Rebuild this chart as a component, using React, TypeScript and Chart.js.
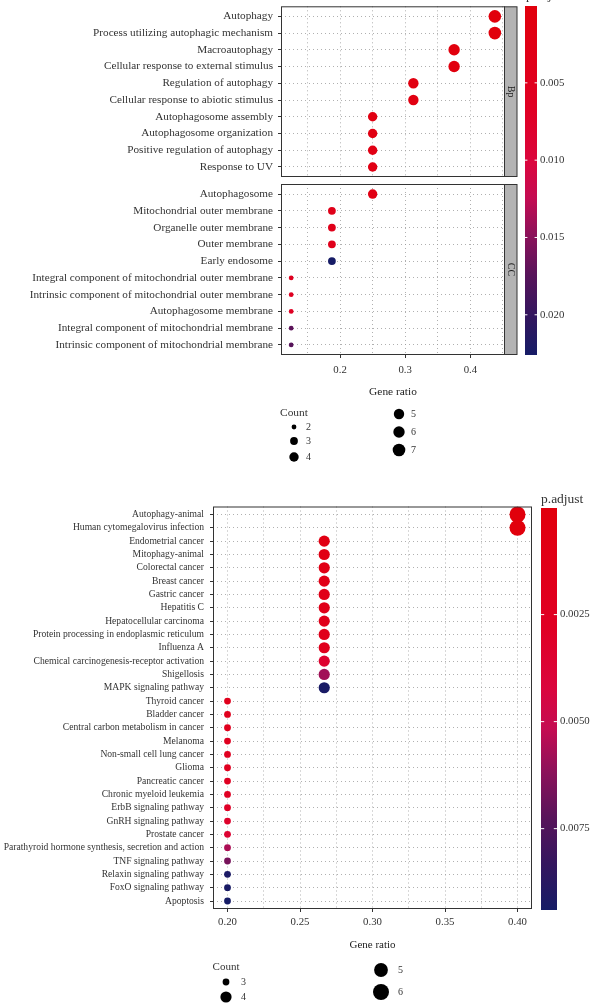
import React, { useEffect, useRef } from "react";
import { Chart, registerables } from "chart.js";
Chart.register(...registerables);

// ---------------- GO (top) data ----------------
const bpTerms = [
  "Autophagy",
  "Process utilizing autophagic mechanism",
  "Macroautophagy",
  "Cellular response to external stimulus",
  "Regulation of autophagy",
  "Cellular response to abiotic stimulus",
  "Autophagosome assembly",
  "Autophagosome organization",
  "Positive regulation of autophagy",
  "Response to UV",
];
const bpCounts = [7, 7, 6, 6, 5, 5, 4, 4, 4, 4];
const bpRatio = [0.4375, 0.4375, 0.375, 0.375, 0.3125, 0.3125, 0.25, 0.25, 0.25, 0.25];
const bpPadj = [0.00003, 0.00004, 0.0004, 0.0005, 0.0012, 0.0013, 0.0016, 0.0018, 0.0022, 0.0024];

const ccTerms = [
  "Autophagosome",
  "Mitochondrial outer membrane",
  "Organelle outer membrane",
  "Outer membrane",
  "Early endosome",
  "Integral component of mitochondrial outer membrane",
  "Intrinsic component of mitochondrial outer membrane",
  "Autophagosome membrane",
  "Integral component of mitochondrial membrane",
  "Intrinsic component of mitochondrial membrane",
];
const ccCounts = [4, 3, 3, 3, 3, 2, 2, 2, 2, 2];
const ccRatio = [0.25, 0.1875, 0.1875, 0.1875, 0.1875, 0.125, 0.125, 0.125, 0.125, 0.125];
const ccPadj = [0.0024, 0.0038, 0.004, 0.0042, 0.0226, 0.0058, 0.006, 0.0065, 0.0172, 0.0175];

const goXGrid = [0.15, 0.2, 0.25, 0.3, 0.35, 0.4, 0.45];
const goXMajor = [0.2, 0.3, 0.4];
const goColorTicks = [0.005, 0.01, 0.015, 0.02];
const goColorTickLabels = ["0.005", "0.010", "0.015", "0.020"];
const goSizeLegendA = [2, 3, 4];
const goSizeLegendB = [5, 6, 7];

// ---------------- KEGG (bottom) data ----------------
const keggTerms = [
  "Autophagy-animal",
  "Human cytomegalovirus infection",
  "Endometrial cancer",
  "Mitophagy-animal",
  "Colorectal cancer",
  "Breast cancer",
  "Gastric cancer",
  "Hepatitis C",
  "Hepatocellular carcinoma",
  "Protein processing in endoplasmic reticulum",
  "Influenza A",
  "Chemical carcinogenesis-receptor activation",
  "Shigellosis",
  "MAPK signaling pathway",
  "Thyroid cancer",
  "Bladder cancer",
  "Central carbon metabolism in cancer",
  "Melanoma",
  "Non-small cell lung cancer",
  "Glioma",
  "Pancreatic cancer",
  "Chronic myeloid leukemia",
  "ErbB signaling pathway",
  "GnRH signaling pathway",
  "Prostate cancer",
  "Parathyroid hormone synthesis, secretion and action",
  "TNF signaling pathway",
  "Relaxin signaling pathway",
  "FoxO signaling pathway",
  "Apoptosis",
];
const keggCounts = [6, 6, 4, 4, 4, 4, 4, 4, 4, 4, 4, 4, 4, 4, 3, 3, 3, 3, 3, 3, 3, 3, 3, 3, 3, 3, 3, 3, 3, 3];
const keggRatio = [
  0.4, 0.4, 0.2667, 0.2667, 0.2667, 0.2667, 0.2667, 0.2667, 0.2667, 0.2667, 0.2667, 0.2667, 0.2667, 0.2667,
  0.2, 0.2, 0.2, 0.2, 0.2, 0.2, 0.2, 0.2, 0.2, 0.2, 0.2, 0.2, 0.2, 0.2, 0.2, 0.2,
];
const keggPadj = [
  0.00001, 0.00003, 0.0008, 0.0009, 0.0011, 0.0012, 0.0014, 0.0015, 0.0016, 0.0018, 0.002, 0.0034, 0.0058, 0.0093,
  0.0019, 0.002, 0.0021, 0.0022, 0.0023, 0.0024, 0.0025, 0.0027, 0.003, 0.0032, 0.0036, 0.0056, 0.0066, 0.0092,
  0.0093, 0.0094,
];
const keggXGrid = [0.2, 0.225, 0.25, 0.275, 0.3, 0.325, 0.35, 0.375, 0.4];
const keggXMajor = [0.2, 0.25, 0.3, 0.35, 0.4];
const keggColorTicks = [0.0025, 0.005, 0.0075];
const keggColorTickLabels = ["0.0025", "0.0050", "0.0075"];
const keggSizeLegendA = [3, 4];
const keggSizeLegendB = [5, 6];

// ---------------- styles ----------------
const FONT = "'Liberation Serif', 'Times New Roman', serif";
const TEXT = "#333333";
const GRID = "#9c9c9c";
const FRAME = "#333333";
const GO_RADIUS: Record<number, number> = { 2: 2.4, 3: 3.9, 4: 4.7, 5: 5.2, 6: 5.7, 7: 6.3 };
const KEGG_RADIUS: Record<number, number> = { 3: 3.4, 4: 5.6, 5: 6.9, 6: 8.0 };
const RAMP: [number, [number, number, number]][] = [
  [0, [225, 0, 12]],
  [0.3, [224, 0, 36]],
  [0.45, [218, 6, 62]],
  [0.55, [196, 12, 82]],
  [0.66, [138, 18, 90]],
  [0.77, [88, 20, 90]],
  [0.885, [52, 22, 94]],
  [1, [22, 28, 102]],
];

function rampColor(t: number): string {
  t = Math.max(0, Math.min(1, t));
  for (let i = 1; i < RAMP.length; i++) {
    const [t1, c1] = RAMP[i];
    const [t0, c0] = RAMP[i - 1];
    if (t <= t1) {
      const f = (t - t0) / (t1 - t0);
      const c = c0.map((v, k) => Math.round(v + (c1[k] - v) * f));
      return `rgb(${c[0]},${c[1]},${c[2]})`;
    }
  }
  const c = RAMP[RAMP.length - 1][1];
  return `rgb(${c[0]},${c[1]},${c[2]})`;
}

function drawColorbar(
  ctx: CanvasRenderingContext2D,
  x: number, y0: number, y1: number, w: number,
  pMin: number, pMax: number, ticks: number[], labels: string[], fontSize: number
) {
  const g = ctx.createLinearGradient(0, y0, 0, y1);
  RAMP.forEach(([t]) => g.addColorStop(t, rampColor(t)));
  ctx.fillStyle = g;
  ctx.fillRect(x, y0, w, y1 - y0);
  ctx.font = `${fontSize}px ${FONT}`;
  ctx.textAlign = "left";
  ctx.textBaseline = "middle";
  ticks.forEach((v, i) => {
    const y = y0 + ((v - pMin) / (pMax - pMin)) * (y1 - y0);
    ctx.strokeStyle = "#ffffff";
    ctx.lineWidth = 1;
    ctx.beginPath();
    ctx.moveTo(x, y); ctx.lineTo(x + w / 5, y);
    ctx.moveTo(x + w - w / 5, y); ctx.lineTo(x + w, y);
    ctx.stroke();
    ctx.fillStyle = TEXT;
    ctx.fillText(labels[i], x + w + 3, y);
  });
}

function drawSizeItems(
  ctx: CanvasRenderingContext2D, counts: number[], radius: Record<number, number>,
  x: number, ys: number[], labelX: number, fontSize: number
) {
  ctx.font = `${fontSize}px ${FONT}`;
  ctx.textAlign = "left";
  ctx.textBaseline = "middle";
  counts.forEach((c, i) => {
    ctx.fillStyle = "#000";
    ctx.beginPath();
    ctx.arc(x, ys[i], radius[c], 0, Math.PI * 2);
    ctx.fill();
    ctx.fillStyle = TEXT;
    ctx.fillText(String(c), labelX, ys[i]);
  });
}

type Opts = {
  terms: string[]; ratio: number[]; counts: number[]; padj: number[];
  pMin: number; pMax: number;
  radius: Record<number, number>;
  xMin: number; xMax: number; xGrid: number[]; xMajor: number[]; digits: number;
  area: { left: number; right: number; top: number; bottom: number };
  W: number; H: number;
  showX: boolean; xAxisH: number; xTickPad: number; tickFont: number; titleFont: number; titlePad: number;
  yFont: number; yTickPad: number;
  strip?: string;
  extra?: (ctx: CanvasRenderingContext2D) => void;
};

function isIn(v: number, arr: number[]) {
  return arr.some((a) => Math.abs(a - v) < 1e-9);
}

function buildChart(canvas: HTMLCanvasElement, o: Opts) {
  const n = o.terms.length;
  const data = o.terms.map((_, i) => ({ x: o.ratio[i], y: i }));
  const radii = o.counts.map((c) => o.radius[c]);
  const colors = o.padj.map((p) => rampColor((p - o.pMin) / (o.pMax - o.pMin)));
  const decor = {
    id: "decor",
    afterDraw(chart: any) {
      const ctx: CanvasRenderingContext2D = chart.ctx;
      const a = chart.chartArea;
      ctx.save();
      ctx.strokeStyle = FRAME;
      ctx.lineWidth = 1;
      ctx.strokeRect(a.left + 0.5, a.top + 0.5, a.right - a.left - 1, a.bottom - a.top - 1);
      if (o.strip) {
        const sx = a.right - 0.5, sw = 12.5;
        ctx.fillStyle = "#b3b3b3";
        ctx.fillRect(sx, a.top + 0.5, sw, a.bottom - a.top - 1);
        ctx.strokeRect(sx, a.top + 0.5, sw, a.bottom - a.top - 1);
        ctx.save();
        ctx.translate(sx + sw / 2, (a.top + a.bottom) / 2);
        ctx.rotate(Math.PI / 2);
        ctx.fillStyle = "#1a1a1a";
        ctx.font = `10px ${FONT}`;
        ctx.textAlign = "center";
        ctx.textBaseline = "middle";
        ctx.fillText(o.strip, 0, 0);
        ctx.restore();
      }
      if (o.extra) o.extra(ctx);
      ctx.restore();
    },
  };
  return new Chart(canvas, {
    type: "scatter",
    data: {
      datasets: [
        {
          data,
          pointRadius: radii,
          pointHoverRadius: radii,
          pointBackgroundColor: colors,
          pointBorderWidth: 0,
          pointBorderColor: "rgba(0,0,0,0)",
        },
      ],
    },
    options: {
      responsive: false,
      animation: false,
      events: [],
      layout: {
        padding: {
          left: 0,
          top: o.area.top,
          right: o.W - o.area.right,
          bottom: o.H - o.area.bottom - o.xAxisH,
        },
      },
      plugins: { legend: { display: false }, tooltip: { enabled: false } },
      scales: {
        x: {
          type: "linear",
          position: "bottom",
          min: o.xMin,
          max: o.xMax,
          afterBuildTicks: (s: any) => {
            s.ticks = o.xGrid.map((v) => ({ value: v }));
          },
          afterFit: (s: any) => {
            s.height = o.xAxisH;
            s.paddingLeft = 0;
            s.paddingRight = 0;
          },
          grid: {
            color: GRID,
            lineWidth: 0.8,
            drawTicks: o.showX,
            tickLength: 3,
            tickWidth: 1,
            tickBorderDash: [],
            tickColor: (c: any) => (c.tick && isIn(c.tick.value, o.xMajor) ? FRAME : "rgba(0,0,0,0)"),
          },
          border: { display: false, dash: [1, 3] },
          ticks: {
            display: o.showX,
            autoSkip: false,
            maxRotation: 0,
            padding: o.xTickPad,
            color: TEXT,
            font: { family: FONT, size: o.tickFont },
            callback: (v: any) => (isIn(Number(v), o.xMajor) ? Number(v).toFixed(o.digits) : ""),
          },
          title: {
            display: o.showX,
            text: "Gene ratio",
            color: "#1a1a1a",
            font: { family: FONT, size: o.titleFont },
            padding: { top: 0, bottom: o.titlePad },
          },
        },
        y: {
          type: "linear",
          reverse: true,
          min: -0.6,
          max: n - 0.4,
          afterBuildTicks: (s: any) => {
            s.ticks = o.terms.map((_, i) => ({ value: i }));
          },
          afterFit: (s: any) => {
            s.width = o.area.left;
            s.paddingTop = 0;
            s.paddingBottom = 0;
          },
          grid: {
            color: GRID,
            lineWidth: 0.8,
            drawTicks: true,
            tickLength: 3,
            tickWidth: 1,
            tickBorderDash: [],
            tickColor: FRAME,
          },
          border: { display: false, dash: [1, 3] },
          ticks: {
            autoSkip: false,
            padding: o.yTickPad,
            color: TEXT,
            font: { family: FONT, size: o.yFont },
            callback: (v: any) => o.terms[Math.round(Number(v))] ?? "",
          },
        },
      },
    },
    plugins: [decor],
  } as any);
}

export default function App() {
  const bpRef = useRef<HTMLCanvasElement>(null);
  const ccRef = useRef<HTMLCanvasElement>(null);
  const keggRef = useRef<HTMLCanvasElement>(null);

  useEffect(() => {
    const goAll = [...bpPadj, ...ccPadj];
    const goMin = Math.min(...goAll), goMax = Math.max(...goAll);
    const kMin = Math.min(...keggPadj), kMax = Math.max(...keggPadj);

    const common = {
      radius: GO_RADIUS, xMin: 0.1094, xMax: 0.4531, xGrid: goXGrid, xMajor: goXMajor, digits: 1,
      W: 591, H: 480, pMin: goMin, pMax: goMax,
      tickFont: 10.8, titleFont: 11.4, yFont: 11.2, yTickPad: 5,
    };
    const bp = buildChart(bpRef.current!, {
      ...common,
      terms: bpTerms, ratio: bpRatio, counts: bpCounts, padj: bpPadj,
      area: { left: 281, right: 505, top: 6, bottom: 177 },
      showX: false, xAxisH: 0, xTickPad: 0, titlePad: 0,
      strip: "Bp",
      extra: (ctx) => {
        ctx.fillStyle = TEXT;
        ctx.font = `13px ${FONT}`;
        ctx.textAlign = "left";
        ctx.textBaseline = "alphabetic";
        ctx.fillText("p.adjust", 526, -1);
      },
    });
    const cc = buildChart(ccRef.current!, {
      ...common,
      terms: ccTerms, ratio: ccRatio, counts: ccCounts, padj: ccPadj,
      area: { left: 281, right: 505, top: 184, bottom: 355 },
      showX: true, xAxisH: 45, xTickPad: 6, titlePad: 1.2,
      strip: "CC",
      extra: (ctx) => {
        drawColorbar(ctx, 525, 6, 355, 12, goMin, goMax, goColorTicks, goColorTickLabels, 10.8);
        ctx.fillStyle = TEXT;
        ctx.font = `11.4px ${FONT}`;
        ctx.textAlign = "center";
        ctx.textBaseline = "middle";
        ctx.fillText("Count", 294, 413);
        drawSizeItems(ctx, goSizeLegendA, GO_RADIUS, 294, [427, 441, 457], 306, 10);
        drawSizeItems(ctx, goSizeLegendB, GO_RADIUS, 399, [414, 432, 450], 411, 10);
      },
    });
    const kegg = buildChart(keggRef.current!, {
      terms: keggTerms, ratio: keggRatio, counts: keggCounts, padj: keggPadj,
      pMin: kMin, pMax: kMax, radius: KEGG_RADIUS,
      xMin: 0.19, xMax: 0.41, xGrid: keggXGrid, xMajor: keggXMajor, digits: 2,
      area: { left: 213, right: 532, top: 26.5, bottom: 429 },
      W: 591, H: 525,
      showX: true, xAxisH: 43, xTickPad: 4, tickFont: 10.8, titleFont: 11, titlePad: 0,
      yFont: 9.6, yTickPad: 6,
      extra: (ctx) => {
        ctx.fillStyle = TEXT;
        ctx.font = `13.5px ${FONT}`;
        ctx.textAlign = "left";
        ctx.textBaseline = "middle";
        ctx.fillText("p.adjust", 541, 19);
        drawColorbar(ctx, 541, 28, 430, 16, kMin, kMax, keggColorTicks, keggColorTickLabels, 10.8);
        ctx.fillStyle = TEXT;
        ctx.font = `11px ${FONT}`;
        ctx.textAlign = "center";
        ctx.textBaseline = "middle";
        ctx.fillText("Count", 226, 487);
        drawSizeItems(ctx, keggSizeLegendA, KEGG_RADIUS, 226, [502, 517], 241, 10);
        drawSizeItems(ctx, keggSizeLegendB, KEGG_RADIUS, 381, [490, 512], 398, 10);
      },
    });
    return () => {
      bp.destroy();
      cc.destroy();
      kegg.destroy();
    };
  }, []);

  const cs = (top: number, h: number): React.CSSProperties => ({
    position: "absolute", left: 0, top, width: 591, height: h,
  });
  return (
    <div style={{ position: "absolute", left: 0, top: 0, width: 591, height: 1005, background: "#fff", overflow: "hidden" }}>
      <canvas ref={bpRef} width={591} height={480} style={cs(0, 480)} />
      <canvas ref={ccRef} width={591} height={480} style={cs(0, 480)} />
      <canvas ref={keggRef} width={591} height={525} style={cs(480, 525)} />
    </div>
  );
}
